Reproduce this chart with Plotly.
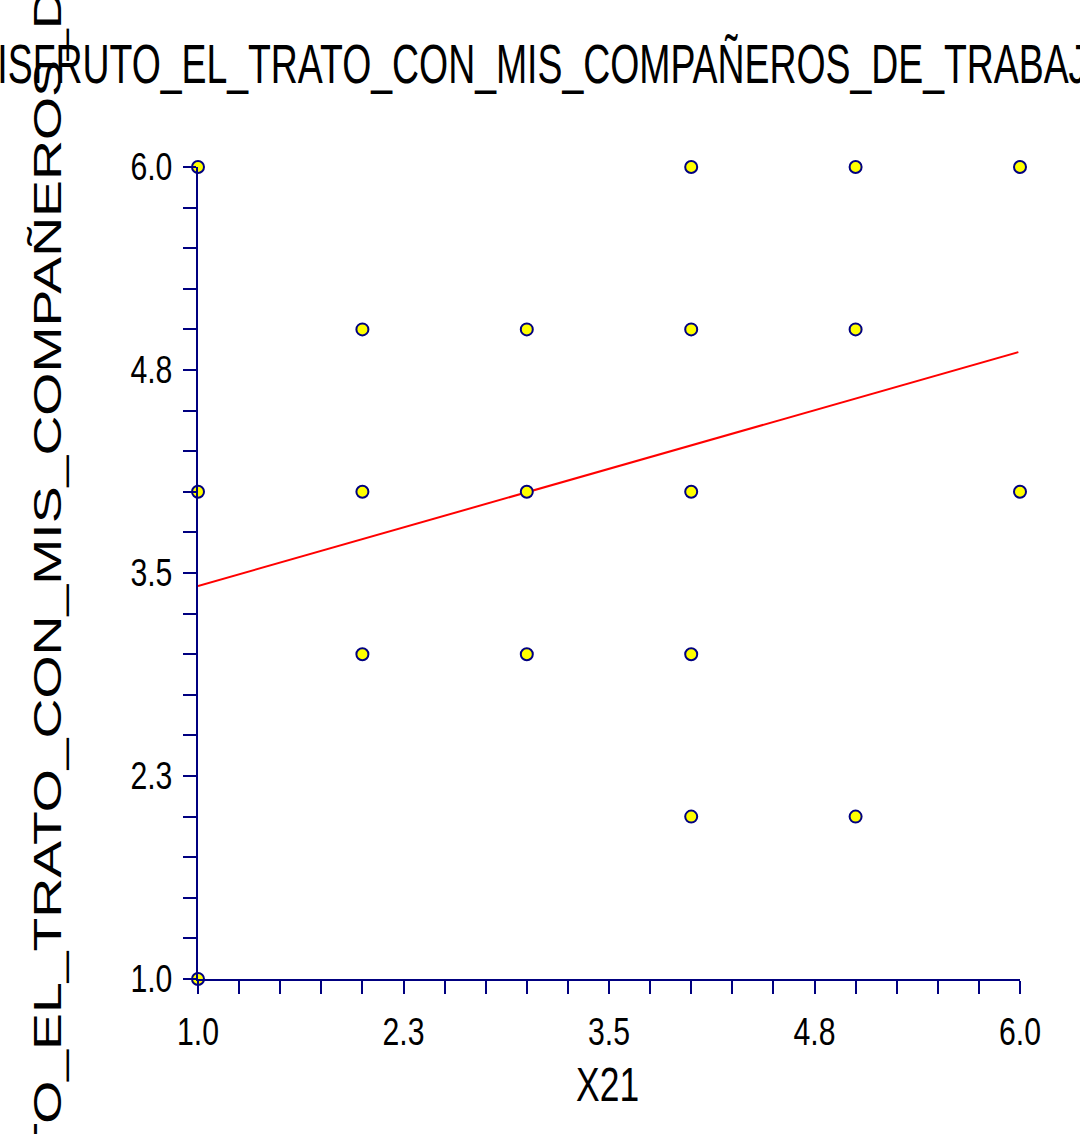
import plotly.graph_objects as go

# ---- data ----
x_vals = [1, 1, 1, 2, 2, 2, 3, 3, 3, 4, 4, 4, 4, 4, 5, 5, 5, 6, 6]
y_vals = [6, 4, 1, 5, 4, 3, 5, 4, 3, 6, 5, 4, 3, 2, 6, 5, 2, 6, 4]
fit_x = [1.0, 5.99]
fit_y = [3.42, 4.86]
tick_vals = [1.0, 2.25, 3.5, 4.75, 6.0]
tick_text = ["1.0", "2.3", "3.5", "4.8", "6.0"]
title_text = "DISFRUTO_EL_TRATO_CON_MIS_COMPAÑEROS_DE_TRABAJO"
x_title = "X21"
y_title = "DISFRUTO_EL_TRATO_CON_MIS_COMPAÑEROS_DE_TRABAJO"

NAVY = "#000080"
NARROW = "Liberation Sans Narrow, Arial Narrow, Liberation Sans, Arial, sans-serif"
WIDE = "Liberation Sans, Arial, sans-serif"

fig = go.Figure()
fig.add_trace(go.Scatter(
    x=fit_x, y=fit_y, mode="lines",
    line=dict(color="#FF0000", width=2), hoverinfo="skip", showlegend=False,
))
fig.add_trace(go.Scatter(
    x=x_vals, y=y_vals, mode="markers",
    marker=dict(symbol="circle", size=12, color="#FFFF00",
                line=dict(color=NAVY, width=2)),
    cliponaxis=False, showlegend=False,
))

axis_common = dict(
    range=[1, 6], showgrid=False, zeroline=False,
    showline=True, linecolor=NAVY, linewidth=2,
    ticks="outside", ticklen=13, tickwidth=2, tickcolor=NAVY,
    tickmode="array", tickvals=tick_vals, ticktext=tick_text,
    tickfont=dict(family=NARROW, size=38, color="black"),
    minor=dict(tick0=1, dtick=0.25, ticks="outside", ticklen=13,
               tickwidth=2, tickcolor=NAVY, showgrid=False),
)
fig.update_xaxes(**axis_common, ticklabelstandoff=5)
fig.update_yaxes(**axis_common, ticklabelstandoff=3)

# plot area: x 198..1020, y 167..979 (px)
fig.update_layout(
    width=1080, height=1134,
    margin=dict(l=198, r=60, t=167, b=155, pad=0),
    paper_bgcolor="white", plot_bgcolor="white",
    annotations=[
        dict(text=title_text, xref="paper", yref="paper", x=0, y=1,
             xshift=543 - 198, yshift=979 - 63 - 812, showarrow=False,
             xanchor="center", yanchor="middle",
             font=dict(family=WIDE, size=56, color="black")),
        dict(text=y_title, xref="paper", yref="paper", x=0, y=0,
             xshift=48 - 198, yshift=979 - 515, showarrow=False,
             textangle=-90, xanchor="center", yanchor="middle",
             font=dict(family=WIDE, size=38, color="black")),
        dict(text=x_title, xref="paper", yref="paper", x=0, y=0,
             xshift=607 - 198, yshift=979 - 1084, showarrow=False,
             xanchor="center", yanchor="middle",
             font=dict(family=WIDE, size=49, color="black")),
    ],
)

post = """
document.body.style.margin = '0';
var gd = document.getElementById('{plot_id}');
var lens = {0: 1146, 1: 1696, 2: 63};
function fixText() {
  Object.keys(lens).forEach(function(k) {
    var t = gd.querySelector('g.annotation[data-index="' + k + '"] text.annotation-text');
    if (t) {
      t.setAttribute('textLength', lens[k]);
      t.setAttribute('lengthAdjust', 'spacingAndGlyphs');
    }
  });
  gd.querySelectorAll('g.xtick text, g.ytick text').forEach(function(t) {
    if (t.textContent && t.textContent.length) {
      t.setAttribute('textLength', 42);
      t.setAttribute('lengthAdjust', 'spacingAndGlyphs');
    }
  });
}
fixText();
if (gd.on) { gd.on('plotly_afterplot', fixText); }
setTimeout(fixText, 50);
setTimeout(fixText, 400);
"""

fig.write_html("out.html", post_script=post, config={"displayModeBar": False})
